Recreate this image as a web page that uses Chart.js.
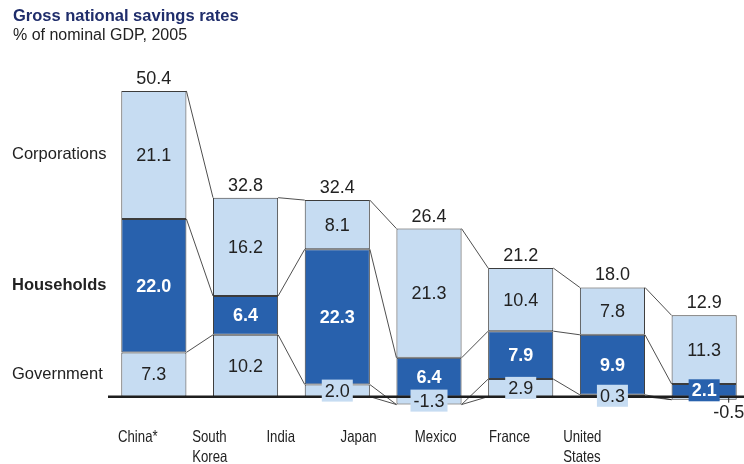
<!DOCTYPE html>
<html>
<head>
  <meta charset="utf-8">
  <title>Gross national savings rates</title>
  <script src="https://cdn.jsdelivr.net/npm/chart.js"></script>
  <style>
    html, body {
      margin: 0;
      padding: 0;
      background: #ffffff;
      overflow: hidden;
    }
    #savingsChart {
      display: block;
    }
  </style>
</head>
<body>

<canvas id="savingsChart" width="750" height="464"></canvas>

<script>
  // % of nominal GDP, 2005
  const countries = ['China*', ['South', 'Korea'], 'India', 'Japan', 'Mexico', 'France', ['United', 'States']];
  const government = [7.3, 10.2, 2.0, -1.3, 2.9, 0.3, -0.5];
  const households = [22.0, 6.4, 22.3, 6.4, 7.9, 9.9, 2.1];
  const corporations = [21.1, 16.2, 8.1, 21.3, 10.4, 7.8, 11.3];
  const totals = [50.4, 32.8, 32.4, 26.4, 21.2, 18.0, 12.9];
  const seriesNames = ['Government', 'Households', 'Corporations'];

  const LIGHT = '#c6dcf2';
  const DARK = '#2861ad';
  const INK = '#222222';
  const FONT = '"Liberation Sans", Arial, sans-serif';

  function fmt(v) {
    return v.toFixed(1);
  }

  // title, subtitle, row names on the left and country names below
  const textPlugin = {
    id: 'texts',
    afterDraw(chart) {
      const ctx = chart.ctx;
      ctx.save();
      ctx.textBaseline = 'middle';
      ctx.textAlign = 'left';
      ctx.fillStyle = '#1f2d6b';
      ctx.font = 'bold 16.5px ' + FONT;
      ctx.fillText('Gross national savings rates', 13, 16);
      ctx.fillStyle = INK;
      ctx.font = '16px ' + FONT;
      ctx.fillText('% of nominal GDP, 2005', 13, 36);

      // row names sit level with the first bar's segments
      for (let d = 0; d < 3; d++) {
        const el = chart.getDatasetMeta(d).data[0];
        const y = (el.y + el.base) / 2;
        ctx.font = (d === 1 ? 'bold ' : '') + '16.5px ' + FONT;
        ctx.fillText(seriesNames[d], 12, y);
      }

      // country names are set in a condensed face
      const squeeze = 0.8;
      ctx.font = '16.5px ' + FONT;
      countries.forEach((name, i) => {
        const lines = Array.isArray(name) ? name : [name];
        lines.forEach((line, j) => {
          ctx.save();
          ctx.translate(118 + i * 74.2, 437 + j * 20);
          ctx.scale(squeeze, 1);
          ctx.fillText(line, 0, 0);
          ctx.restore();
        });
      });
      ctx.restore();
    }
  };

  // thin lines joining the segment edges of neighbouring bars, plus the zero line
  const connectorPlugin = {
    id: 'connectors',
    afterDatasetsDraw(chart) {
      const ctx = chart.ctx;
      const y = chart.scales.y;
      const bars = chart.getDatasetMeta(0).data;
      const levels = countries.map((c, i) => {
        const posBase = Math.max(0, government[i]);
        return [
          Math.min(0, government[i]),
          government[i],
          posBase + households[i],
          posBase + households[i] + corporations[i]
        ];
      });
      ctx.save();
      ctx.strokeStyle = INK;
      ctx.lineWidth = 0.8;
      for (let i = 0; i < bars.length - 1; i++) {
        const x1 = bars[i].x + bars[i].width / 2;
        const x2 = bars[i + 1].x - bars[i + 1].width / 2;
        levels[i].forEach((lv, k) => {
          ctx.beginPath();
          ctx.moveTo(x1, y.getPixelForValue(lv));
          ctx.lineTo(x2, y.getPixelForValue(levels[i + 1][k]));
          ctx.stroke();
        });
      }
      const y0 = y.getPixelForValue(0);
      ctx.strokeStyle = '#1e1e1e';
      ctx.lineWidth = 2.5;
      ctx.beginPath();
      ctx.moveTo(chart.chartArea.left, y0);
      ctx.lineTo(chart.width, y0);
      ctx.stroke();
      ctx.restore();
    }
  };

  // segment values and totals
  const valuePlugin = {
    id: 'values',
    afterDatasetsDraw(chart) {
      const ctx = chart.ctx;
      ctx.save();
      ctx.textAlign = 'center';
      ctx.textBaseline = 'middle';
      chart.data.datasets.forEach((ds, d) => {
        const meta = chart.getDatasetMeta(d);
        meta.data.forEach((el, i) => {
          const v = ds.data[i];
          const text = fmt(v);
          const dark = d === 1;
          ctx.font = (dark ? 'bold ' : '') + '18px ' + FONT;
          const h = Math.abs(el.base - el.y);
          const cy = (el.y + el.base) / 2;
          if (v < 0 && Math.abs(v) < 1) {
            // too thin to hold its label: put it below with a small tick
            const tx = el.x + el.width / 2 - 8;
            const y0 = chart.scales.y.getPixelForValue(0);
            ctx.strokeStyle = INK;
            ctx.lineWidth = 1;
            ctx.beginPath();
            ctx.moveTo(tx, y0);
            ctx.lineTo(tx, y0 + 6);
            ctx.stroke();
            ctx.fillStyle = INK;
            ctx.font = '18px ' + FONT;
            ctx.fillText(text, tx, y0 + 16);
            return;
          }
          if (h < 20) {
            const w = ctx.measureText(text).width + 6;
            ctx.fillStyle = ds.backgroundColor;
            ctx.fillRect(el.x - w / 2, cy - 11, w, 22);
          }
          ctx.fillStyle = dark ? '#ffffff' : INK;
          ctx.fillText(text, el.x, cy + 1);
        });
      });

      const top = chart.getDatasetMeta(2).data;
      ctx.fillStyle = INK;
      ctx.font = '18px ' + FONT;
      top.forEach((el, i) => {
        ctx.fillText(fmt(totals[i]), el.x, el.y - 12);
      });
      ctx.restore();
    }
  };

  const ctx = document.getElementById('savingsChart').getContext('2d');
  new Chart(ctx, {
    type: 'bar',
    data: {
      labels: countries,
      datasets: [
        { label: seriesNames[0], data: government, backgroundColor: LIGHT },
        { label: seriesNames[1], data: households, backgroundColor: DARK },
        { label: seriesNames[2], data: corporations, backgroundColor: LIGHT }
      ].map(ds => Object.assign(ds, {
        borderColor: '#3c3c3c',
        borderWidth: 1,
        borderSkipped: false,
        barPercentage: 0.71,
        categoryPercentage: 1.0
      }))
    },
    options: {
      responsive: false,
      animation: false,
      layout: {
        padding: { left: 108, right: 0, top: 63, bottom: 37 }
      },
      plugins: {
        legend: { display: false },
        tooltip: { enabled: false }
      },
      scales: {
        x: { stacked: true, display: false },
        y: { stacked: true, display: false, min: -5, max: 55 }
      }
    },
    plugins: [connectorPlugin, valuePlugin, textPlugin]
  });
</script>

</body>
</html>
